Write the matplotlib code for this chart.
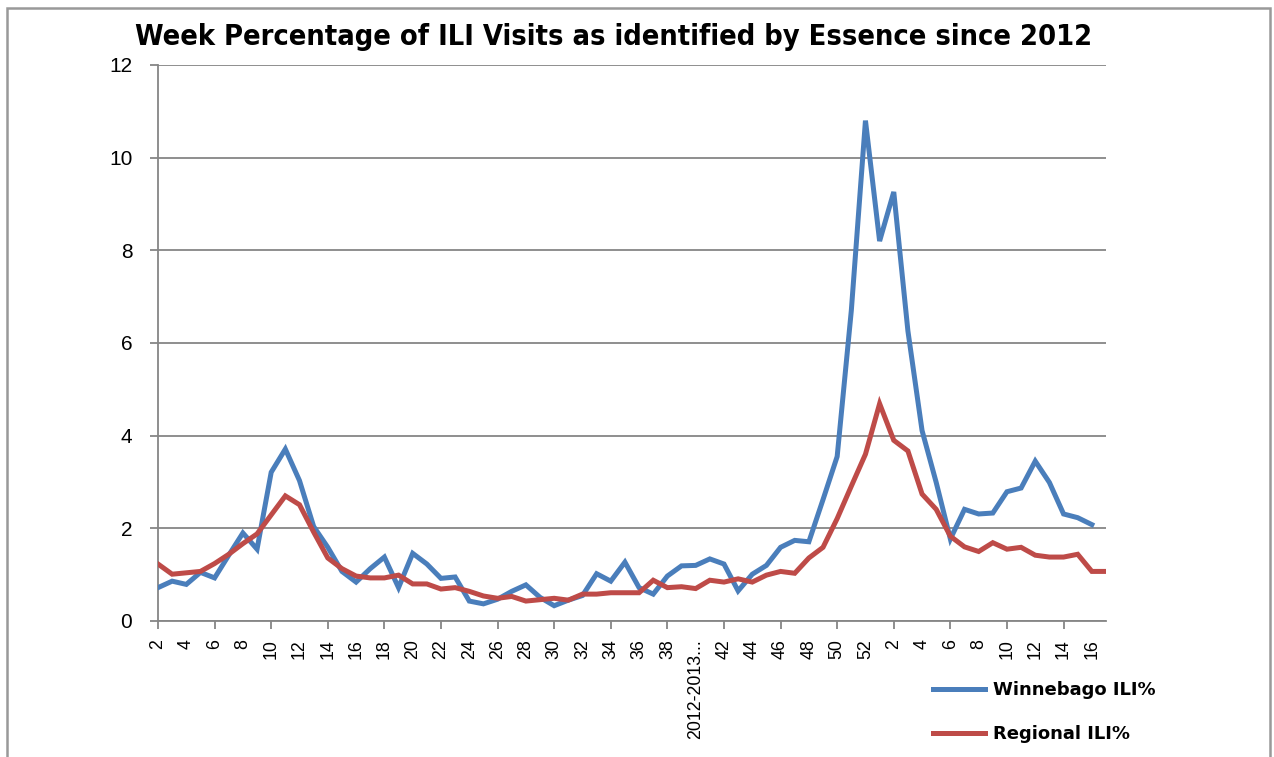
import matplotlib
matplotlib.use("Agg")
import matplotlib.pyplot as plt
from matplotlib.patches import Rectangle
from matplotlib.ticker import FixedLocator, FixedFormatter

# ---------------- data ----------------
categories = (
    ["2", "3", "4", "5", "6", "7", "8", "9", "10", "11", "12", "13", "14", "15",
     "16", "17", "18", "19", "20", "21", "22", "23", "24", "25", "26", "27",
     "28", "29", "30", "31", "32", "33", "34", "35", "36", "37", "38", "39",
     "2012-2013...", "41", "42", "43", "44", "45", "46", "47", "48", "49", "50",
     "51", "52", "1", "2", "3", "4", "5", "6", "7", "8", "9", "10", "11", "12",
     "13", "14", "15", "16", "17"]
)

winnebago = [0.72, 0.86, 0.79, 1.05, 0.93, 1.42, 1.90, 1.55, 3.21, 3.71,
             3.03, 2.04, 1.59, 1.07, 0.84, 1.13, 1.38, 0.72, 1.46, 1.23,
             0.92, 0.95, 0.43, 0.37, 0.47, 0.64, 0.78, 0.51, 0.33, 0.45,
             0.55, 1.02, 0.86, 1.27, 0.72, 0.58, 0.97, 1.19, 1.20, 1.34,
             1.23, 0.65, 1.01, 1.20, 1.59, 1.74, 1.71, 2.62, 3.55, 6.70,
             10.80, 8.20, 9.26, 6.26, 4.11, 2.99, 1.77, 2.41, 2.31, 2.33,
             2.79, 2.87, 3.45, 2.99, 2.31, 2.23, 2.08]

regional = [1.23, 1.01, 1.04, 1.07, 1.24, 1.44, 1.67, 1.88, 2.29, 2.70,
            2.51, 1.92, 1.36, 1.13, 0.97, 0.93, 0.93, 0.99, 0.80, 0.80,
            0.69, 0.72, 0.64, 0.54, 0.49, 0.53, 0.43, 0.46, 0.49, 0.45,
            0.58, 0.58, 0.61, 0.61, 0.61, 0.88, 0.72, 0.74, 0.70, 0.88,
            0.84, 0.91, 0.84, 0.99, 1.07, 1.03, 1.36, 1.59, 2.21, 2.91,
            3.60, 4.69, 3.90, 3.67, 2.74, 2.41, 1.83, 1.60, 1.50, 1.69,
            1.55, 1.59, 1.42, 1.38, 1.38, 1.44, 1.07, 1.07]

title = "Week Percentage of ILI Visits as identified by Essence since 2012"
series_names = ["Winnebago ILI%", "Regional ILI%"]

# ---------------- figure ----------------
W, H = 1274, 757
fig = plt.figure(figsize=(W / 100, H / 100), dpi=100)
fig.patch.set_facecolor("white")

ax = fig.add_axes([158 / W, 1 - 621 / H, (1106 - 158) / W, (621 - 65) / H])

blue = "#4A7EBB"
red = "#BE4B48"
grid_c = "#868686"

xb = list(range(len(winnebago)))
xr = list(range(len(regional)))
l1, = ax.plot(xb, winnebago, color=blue, lw=3.6, solid_joinstyle="miter",
              label=series_names[0], zorder=3)
l2, = ax.plot(xr, regional, color=red, lw=3.6, solid_joinstyle="miter",
              label=series_names[1], zorder=3)

ax.set_xlim(0, len(categories) - 1)
ax.set_ylim(0, 12)

# y axis
ax.set_yticks(range(0, 13, 2))
ax.yaxis.grid(True, color=grid_c, lw=1.3)
ax.set_axisbelow(True)
ax.tick_params(axis="y", length=6, width=1.3, color=grid_c, pad=12.5,
               labelsize=15)
for lab in ax.get_yticklabels():
    lab.set_family(["Liberation Sans", "DejaVu Sans"])

# x axis: labels every 2 categories, tick marks every 4
lab_pos = list(range(0, len(categories), 2))
ax.xaxis.set_minor_locator(FixedLocator(lab_pos))
ax.xaxis.set_minor_formatter(FixedFormatter([categories[i] for i in lab_pos]))
maj_pos = list(range(0, len(categories), 4))
ax.xaxis.set_major_locator(FixedLocator(maj_pos))
ax.xaxis.set_major_formatter(FixedFormatter([""] * len(maj_pos)))
ax.xaxis.remove_overlapping_locs = False
ax.tick_params(axis="x", which="major", length=6, width=1.3, color=grid_c)
ax.tick_params(axis="x", which="minor", length=0, pad=13, labelsize=12.8,
               labelrotation=90)
for lab in ax.xaxis.get_minorticklabels():
    lab.set_family(["Liberation Sans", "DejaVu Sans"])
    lab.set_va("top")

for s in ["top", "right"]:
    ax.spines[s].set_visible(False)
for s in ["left", "bottom"]:
    ax.spines[s].set_color(grid_c)
    ax.spines[s].set_linewidth(1.3)

# title
fig.text(614 / W, 1 - 37 / H, title, ha="center", va="center",
         fontsize=20.8, fontweight="bold", fontstretch="condensed",
         family=["DejaVu Sans"])

# legend
leg = fig.legend(handles=[l1, l2], loc="upper left",
                 bbox_to_anchor=(933 / W, 1 - 681 / H),
                 frameon=False, borderpad=0, borderaxespad=0,
                 handlelength=2.9, handletextpad=0.4, labelspacing=1.45,
                 prop={"family": "DejaVu Sans", "weight": "bold", "size": 13})

# figure border
fig.patches.append(Rectangle((7 / W, -0.02), (1270 - 7) / W, 1.02 - 8 / H,
                             transform=fig.transFigure, fill=False,
                             edgecolor="#999999", lw=1.8, zorder=0))

fig.savefig("out.png", dpi=100)
